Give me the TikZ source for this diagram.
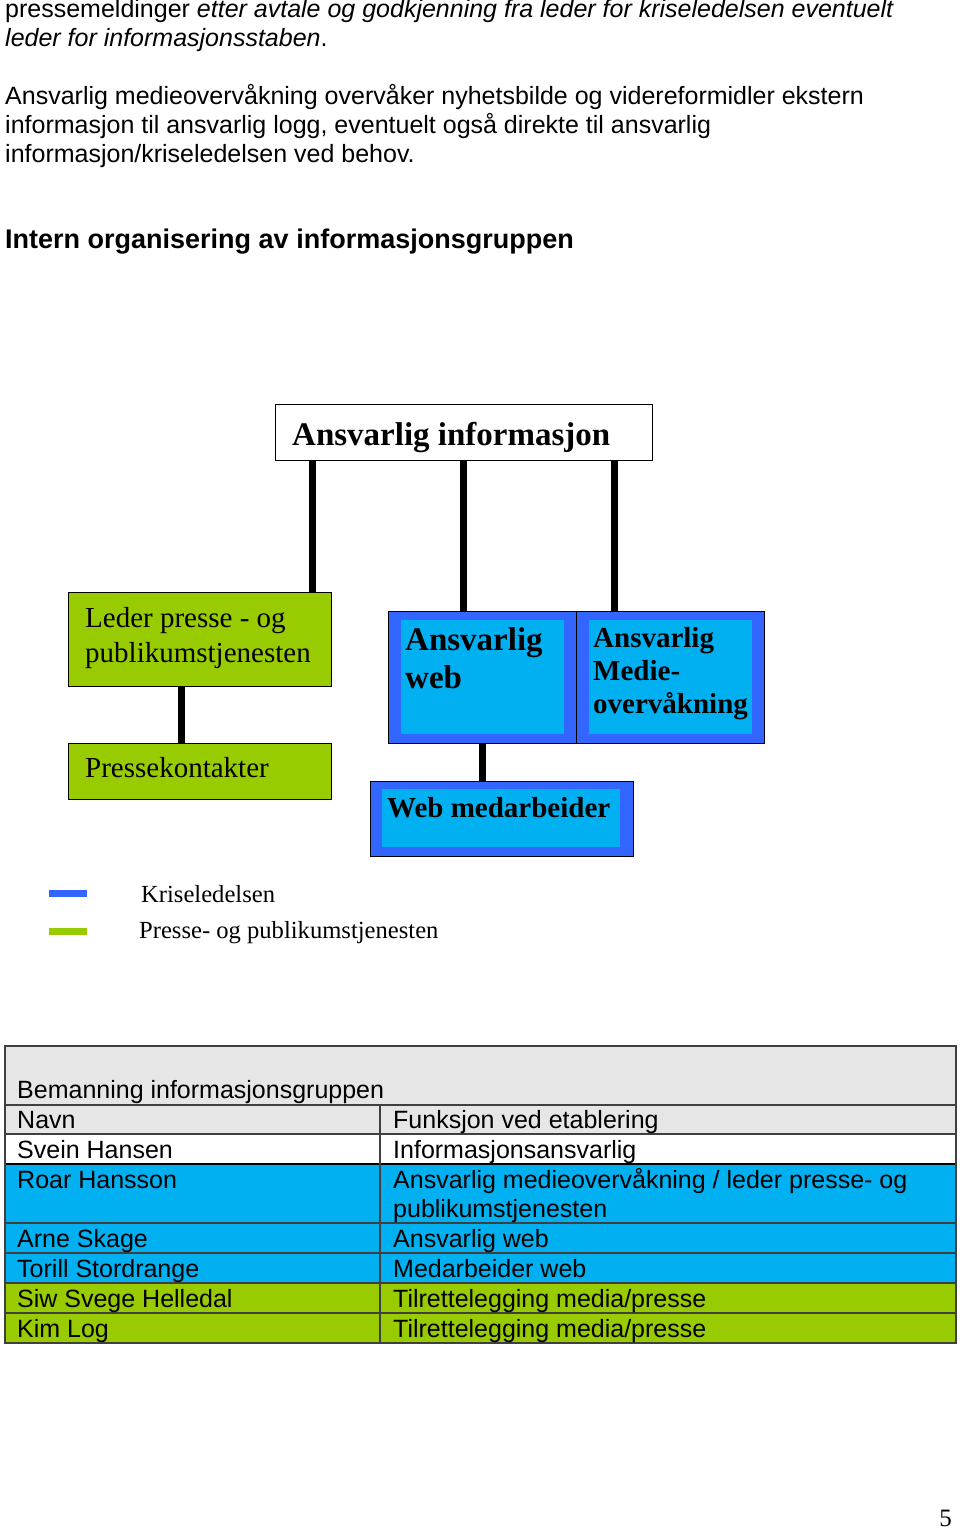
\documentclass[tikz,border=0pt]{standalone}
\usepackage{fontspec}
\setmainfont{Liberation Sans}
\newfontfamily\serifrm{Liberation Serif}
\usetikzlibrary{positioning}

\definecolor{kriseblue}{HTML}{3366FF}
\definecolor{webcyan}{HTML}{00B0F0}
\definecolor{pressegreen}{HTML}{99CC00}
\definecolor{tablegray}{HTML}{E6E6E6}
\definecolor{rulegray}{HTML}{404040}

\tikzset{
  body/.style={anchor=base west, inner sep=0pt, align=left, font=\fontsize{25}{29}\selectfont},
  orgline/.style={line width=7pt},
  orgbox/.style={draw=black, line width=1pt, anchor=north west, inner sep=0pt},
  innerbox/.style={fill=webcyan, anchor=north west, inner sep=0pt},
  boxtxt/.style={anchor=base west, inner sep=0pt, align=left},
  tabtxt/.style={anchor=base west, inner sep=0pt, font=\fontsize{25}{30}\selectfont},
  tabrule/.style={rulegray, line width=1.2pt},
}

\begin{document}
\begin{tikzpicture}[x=1pt,y=-1pt]
\useasboundingbox (0,0) rectangle (960,1530);

% running text above the chart (base = last line)
\node[body] (para1) at (5,47) {pressemeldinger \textit{etter avtale og godkjenning fra leder for kriseledelsen eventuelt}\\\textit{leder for informasjonsstaben}.};
\node[body] (para2) at (5,163) {Ansvarlig medieovervåkning overvåker nyhetsbilde og videreformidler ekstern\\informasjon til ansvarlig logg, eventuelt også direkte til ansvarlig\\informasjon/kriseledelsen ved behov.};
\node[body, font=\bfseries\fontsize{27}{31}\selectfont] (heading) at (5,248) {Intern organisering av informasjonsgruppen};

% org chart
\node[orgbox, fill=white, minimum width=377pt, minimum height=56pt] (info) at (275,404) {};
\node[boxtxt, font=\serifrm\bfseries\fontsize{33}{38}\selectfont] (infotxt) at (292,445) {Ansvarlig informasjon};

\node[orgbox, fill=pressegreen, minimum width=263pt, minimum height=94pt] (leder) at (68,592) {};
\node[boxtxt, font=\serifrm\fontsize{29}{35}\selectfont] (ledertxt) at (85,662) {Leder presse - og\\publikumstjenesten};
\node[orgbox, fill=pressegreen, minimum width=263pt, minimum height=56pt] (kontakt) at (68,743) {};
\node[boxtxt, font=\serifrm\fontsize{29}{35}\selectfont] (kontakttxt) at (85,777) {Pressekontakter};

\node[orgbox, fill=kriseblue, minimum width=376pt, minimum height=132pt] (krise) at (388,611) {};
\draw[line width=1pt] ([xshift=188pt]krise.north west) -- ([xshift=188pt]krise.south west);
\node[innerbox, minimum width=163pt, minimum height=114pt] (web) at (401,620) {};
\node[innerbox, minimum width=163pt, minimum height=114pt] (medie) at (589,620) {};
\node[boxtxt, font=\serifrm\bfseries\fontsize{33}{38}\selectfont] (webtxt) at (405,688) {Ansvarlig\\web};
\node[boxtxt, font=\serifrm\bfseries\fontsize{29}{33}\selectfont] (medietxt) at (593,713) {Ansvarlig\\Medie-\\overvåkning};

\node[orgbox, fill=kriseblue, minimum width=263pt, minimum height=75pt] (webmed) at (370,781) {};
\node[innerbox, minimum width=238pt, minimum height=58pt] (webmedin) at (382,789) {};
\node[boxtxt, font=\serifrm\bfseries\fontsize{29}{33}\selectfont] (webmedtxt) at (387,817) {Web medarbeider};

\draw[orgline] ([xshift=37pt]info.south west) -- ([xshift=37pt]info.south west |- leder.north);
\draw[orgline] ([xshift=188pt]info.south west) -- ([xshift=188pt]info.south west |- krise.north);
\draw[orgline] ([xshift=339pt]info.south west) -- ([xshift=339pt]info.south west |- krise.north);
\draw[orgline] ([xshift=113pt]leder.south west) -- ([xshift=113pt]leder.south west |- kontakt.north);
\draw[orgline] ([xshift=94pt]krise.south west) -- ([xshift=94pt]krise.south west |- webmed.north);

% legend
\node[fill=kriseblue, inner sep=0pt, minimum width=38pt, minimum height=7pt] (keykrise) at (68,893.5) {};
\node[fill=pressegreen, inner sep=0pt, minimum width=38pt, minimum height=7pt] (keypresse) at (68,931) {};
\node[boxtxt, font=\serifrm\fontsize{24.6}{28}\selectfont] (keykrisetxt) at (141,902) {Kriseledelsen};
\node[boxtxt, font=\serifrm\fontsize{24.6}{28}\selectfont] (keypressetxt) at (139,938) {Presse- og publikumstjenesten};

% staffing table
\fill[tablegray] (5,1046) rectangle (956,1134);
\fill[white] (5,1134) rectangle (956,1164);
\fill[webcyan] (5,1164) rectangle (956,1283);
\fill[pressegreen] (5,1283) rectangle (956,1343);
\foreach \y in {1105,1134,1223,1253,1283,1313}
  \draw[tabrule] (5,\y) -- (956,\y);
\draw[black, line width=2.2pt] (5,1164) -- (956,1164);
\draw[tabrule] (380,1105) -- (380,1343);
\draw[tabrule] (5,1046) rectangle (956,1343);

\node[tabtxt] (tabtitle) at (17,1098) {Bemanning informasjonsgruppen};
\foreach \y/\navn/\rolle in {1128/Navn/Funksjon ved etablering,
    1158/Svein Hansen/Informasjonsansvarlig,
    1188/Roar Hansson/{Ansvarlig medieovervåkning / leder presse- og},
    1247/Arne Skage/Ansvarlig web,
    1277/Torill Stordrange/Medarbeider web,
    1307/Siw Svege Helledal/{Tilrettelegging media/presse},
    1337/Kim Log/{Tilrettelegging media/presse}}{
  \node[tabtxt] (navn\y) at (17,\y) {\navn};
  \node[tabtxt] (rolle\y) at (393,\y) {\rolle};
}
\node[tabtxt] (rolle1217) at (393,1217) {publikumstjenesten};

\node[boxtxt, anchor=base east, font=\serifrm\fontsize{25}{29}\selectfont] (pagenum) at (952,1526) {5};
\end{tikzpicture}
\end{document}
